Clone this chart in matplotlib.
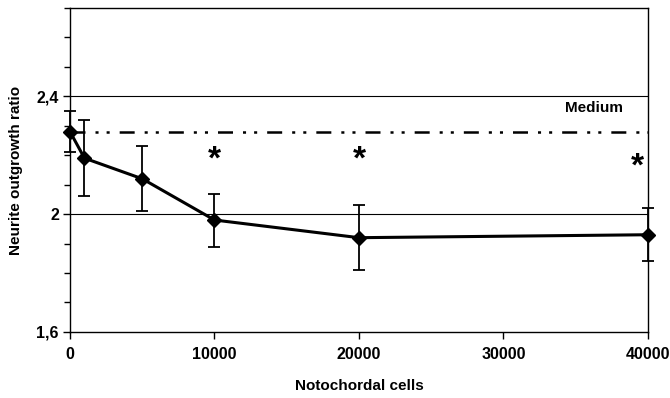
import numpy as np
import matplotlib
matplotlib.use("Agg")
import matplotlib.pyplot as plt
from matplotlib.ticker import MultipleLocator, FuncFormatter

plt.rcParams['font.family'] = ['Liberation Sans', 'DejaVu Sans']
plt.rcParams['lines.scale_dashes'] = False

# data
cells = [0, 1000, 5000, 10000, 20000, 40000]
ratio = [2.28, 2.19, 2.12, 1.98, 1.92, 1.93]
err = [0.07, 0.13, 0.11, 0.09, 0.11, 0.09]
medium = 2.28
star_x = [10000, 20000, 39300]
star_y = [2.185, 2.185, 2.16]

fig = plt.figure(figsize=(6.7, 3.98), dpi=100)
ax = fig.add_axes([0.1045, 0.166, 0.8625, 0.814])

ax.set_xlim(0, 40000)
ax.set_ylim(1.6, 2.7)

# grid lines at major ticks
for g in [2.0, 2.4]:
    ax.axhline(g, color='black', lw=0.8, zorder=1)

# medium reference line (dash dot dot)
ax.plot([0, 40000], [medium, medium], color='black', lw=1.8,
        dashes=[10.8, 7.2, 2.2, 5.8, 2.2, 7.2], zorder=2, clip_on=False)
ax.text(36300, 2.362, "Medium", fontsize=11, fontweight='bold',
        ha='center', va='center')

ax.errorbar(cells, ratio, yerr=err, color='black', lw=2.2, marker='D',
            markersize=7.5, elinewidth=1.3, capsize=4, capthick=1.3,
            zorder=3, clip_on=False)

for sx, sy in zip(star_x, star_y):
    ax.text(sx, sy, "*", fontsize=24, fontweight='bold', ha='center', va='center')

ax.set_yticks([1.6, 2.0, 2.4])
ax.yaxis.set_minor_locator(MultipleLocator(0.1))
ax.xaxis.set_major_locator(MultipleLocator(10000))
ax.yaxis.set_major_formatter(FuncFormatter(lambda v, p: ("%g" % round(v, 2)).replace('.', ',')))

ax.tick_params(axis='both', which='both', direction='out', width=1, color='black')
ax.tick_params(axis='y', which='major', length=5, pad=3)
ax.tick_params(axis='y', which='minor', length=4)
ax.tick_params(axis='x', length=5, pad=6)
for lbl in ax.get_xticklabels() + ax.get_yticklabels():
    lbl.set_fontweight('bold')
    lbl.set_fontsize(11.5)

for s in ax.spines.values():
    s.set_linewidth(1)
    s.set_color('black')

ax.set_xlabel("Notochordal cells", fontsize=11, fontweight='bold', labelpad=12)
ax.set_ylabel("Neurite outgrowth ratio", fontsize=11, fontweight='bold', labelpad=10)

fig.savefig("out.png", dpi=100)
